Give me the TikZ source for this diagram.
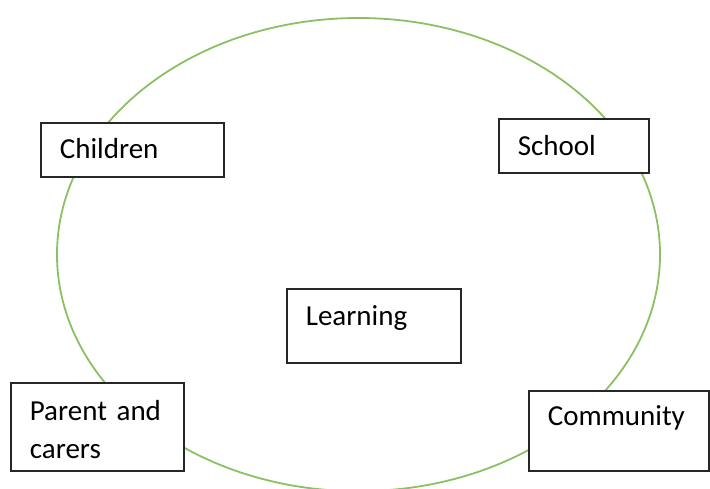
\documentclass[tikz,border=0pt]{standalone}
\usepackage{fontspec}
\setmainfont{Carlito}
\usepackage{tikz}
\usepackage{xcolor}
\definecolor{ringgreen}{RGB}{140,192,100}

\begin{document}
\begin{tikzpicture}[
            x = 1pt, y = -1pt, % pixel coordinates, y down
            box/.style = {draw=black!85, fill=white, line width=1.7pt, anchor=north west,
                          inner xsep=19pt, inner ysep=0pt, align=left,
                          font=\fontsize{29}{38}\selectfont},
            ring/.style = {draw=ringgreen, line width=1.8pt}
        ]
\useasboundingbox (0,0) rectangle (710,488);
\draw[ring] (358.5,254.6) ellipse [x radius=301.5pt, y radius=236.6pt];

\node[box, text width=145pt, text height=36pt, text depth=18pt] (C) at (40,122) {Children};
\node[box, text width=112pt, text height=37pt, text depth=17pt] (S) at (498,118) {School};
\node[box, text width=136pt, text height=37pt, text depth=37pt] (L) at (286,288) {Learning};
\node[box, text width=135pt, text height=38pt, text depth=50pt] (P) at (10,382) {Parent and\\carers};
\node[box, text width=142pt, text height=35pt, text depth=45pt] (M) at (528,390) {Community};
\end{tikzpicture}
\end{document}
